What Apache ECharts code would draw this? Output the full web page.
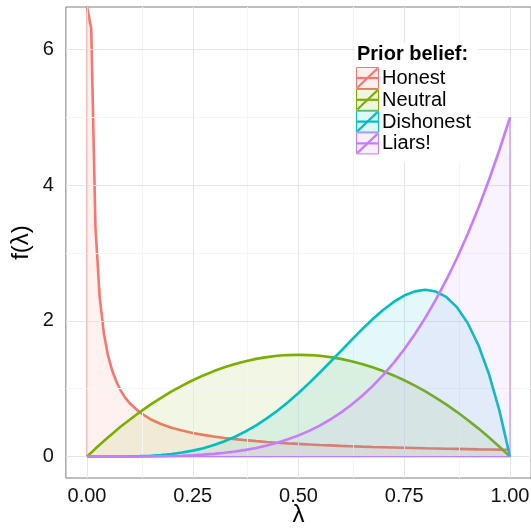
<!DOCTYPE html>
<html>
<head>
<meta charset="utf-8">
<script src="https://cdn.jsdelivr.net/npm/echarts@6/dist/echarts.min.js"></script>
<style>html,body{margin:0;padding:0;background:#fff}#c{width:531px;height:529px}</style>
</head>
<body>
<div id="c"></div>
<script>
// ---- data ----
const lambda = [0, 0.01, 0.02, 0.03, 0.04, 0.05, 0.06, 0.07, 0.08, 0.09, 0.1,
  0.125, 0.15, 0.175, 0.2, 0.225, 0.25, 0.275, 0.3, 0.325, 0.35, 0.375, 0.4,
  0.425, 0.45, 0.475, 0.5, 0.525, 0.55, 0.575, 0.6, 0.625, 0.65, 0.675, 0.7,
  0.725, 0.75, 0.775, 0.8, 0.825, 0.85, 0.875, 0.9, 0.925, 0.95, 0.975, 1.0];
const honest = [6.63, 6.31, 3.38, 2.35, 1.81, 1.48, 1.26, 1.10, 0.971, 0.873, 0.794,
  0.650, 0.551, 0.480, 0.426, 0.383, 0.348, 0.320, 0.296, 0.275, 0.257, 0.242, 0.228,
  0.216, 0.205, 0.195, 0.187, 0.179, 0.171, 0.165, 0.158, 0.153, 0.147, 0.142, 0.138,
  0.134, 0.130, 0.126, 0.122, 0.119, 0.116, 0.113, 0.110, 0.107, 0.105, 0.102, 0.100];
const neutral = [0, 0.059, 0.118, 0.175, 0.230, 0.285, 0.338, 0.391, 0.442, 0.491, 0.540,
  0.656, 0.765, 0.866, 0.960, 1.046, 1.125, 1.196, 1.260, 1.316, 1.365, 1.406, 1.440,
  1.466, 1.485, 1.496, 1.500, 1.496, 1.485, 1.466, 1.440, 1.406, 1.365, 1.316, 1.260,
  1.196, 1.125, 1.046, 0.960, 0.866, 0.765, 0.656, 0.540, 0.416, 0.285, 0.146, 0];
const dishonest = [0, 0, 0, 0, 0.0001, 0.0002, 0.0004, 0.0007, 0.0011, 0.0018, 0.0027,
  0.0064, 0.0129, 0.0232, 0.0384, 0.0596, 0.0879, 0.1244, 0.1701, 0.2259, 0.2926, 0.3708, 0.4608,
  0.5628, 0.6766, 0.8018, 0.9375, 1.0826, 1.2353, 1.3937, 1.5552, 1.7166, 1.8743, 2.0240, 2.1609,
  2.2793, 2.3730, 2.4351, 2.4576, 2.4321, 2.3490, 2.1982, 1.9683, 1.6472, 1.2218, 0.6778, 0];
const liars = [0, 0, 0, 0, 0, 0, 0.0001, 0.0001, 0.0002, 0.0003, 0.0005,
  0.0012, 0.0025, 0.0047, 0.0080, 0.0128, 0.0195, 0.0286, 0.0405, 0.0558, 0.0750, 0.0989, 0.1280,
  0.1631, 0.2050, 0.2545, 0.3125, 0.3798, 0.4575, 0.5466, 0.6480, 0.7629, 0.8925, 1.0380, 1.2005,
  1.3814, 1.5820, 1.8038, 2.0480, 2.3163, 2.6100, 2.9309, 3.2805, 3.6605, 4.0725, 4.5184, 5.0];
const groups = ['Honest', 'Neutral', 'Dishonest', 'Liars!'];
const values = [honest, neutral, dishonest, liars];
const xTicks = [0, 0.25, 0.5, 0.75, 1];
const xMinor = [0.125, 0.375, 0.625, 0.875];
const yTicks = [0, 2, 4, 6];
const yMinor = [1, 3, 5];
const legendTitle = 'Prior belief:';
const xTitle = 'λ';
const yTitle = 'f(λ)';

// ---- styling ----
const colors = ['#F8766D', '#7CAE00', '#00BFC4', '#C77CFF'];
const FONT = '"Liberation Sans", Arial, sans-serif';
const X_MIN = -0.05, X_MAX = 1.05, Y_MIN = -0.3155, Y_MAX = 6.6255;

function pairs(xs, ys) { return xs.map((x, i) => [x, ys[i]]); }

const series = [];
series.push({
  type: 'line', data: [], silent: true, z: 0,
  markLine: {
    silent: true, symbol: 'none', label: { show: false }, animation: false,
    data: [
      ...xMinor.map(v => ({ xAxis: v, lineStyle: { color: '#f5f5f5', width: 1, type: 'solid' } })),
      ...yMinor.map(v => ({ yAxis: v, lineStyle: { color: '#f5f5f5', width: 1, type: 'solid' } })),
      ...xTicks.map(v => ({ xAxis: v, lineStyle: { color: '#e6e6e6', width: 1, type: 'solid' } })),
      ...yTicks.map(v => ({ yAxis: v, lineStyle: { color: '#e6e6e6', width: 1, type: 'solid' } }))
    ]
  }
});
groups.forEach((g, i) => {
  const pts = pairs(lambda, values[i]);
  series.push({
    name: g + ' area', type: 'line', z: 2 + i * 2,
    data: [[0, 0]].concat(pts).concat([[1, 0], [0, 0]]),
    symbol: 'none', clip: true, animation: false,
    lineStyle: { color: colors[i], width: 1 },
    areaStyle: { color: colors[i], opacity: 0.1 }
  });
  series.push({
    name: g, type: 'line', z: 3 + i * 2,
    data: pts, symbol: 'none', clip: true, animation: false,
    lineStyle: { color: colors[i], width: 2.6 }
  });
});

const LX = 356.5, LY0 = 67.5, ROW = 21.8, KW = 22, KH = 21;
const graphic = [
  { type: 'rect', shape: { x: 355, y: 42, width: 123, height: 120 }, style: { fill: '#fff' }, z: 100 },
  { type: 'text', x: 357, y: 54.7, z: 101,
    style: { text: legendTitle, font: 'bold 20px ' + FONT, fill: '#000', verticalAlign: 'middle' } }
];
groups.forEach((g, i) => {
  const top = LY0 + i * ROW;
  graphic.push({ type: 'rect', z: 101, shape: { x: LX, y: top, width: KW, height: KH },
    style: { fill: echarts.color.modifyAlpha(colors[i], 0.12), stroke: colors[i], lineWidth: 1 } });
  graphic.push({ type: 'line', z: 102, shape: { x1: LX, y1: top + KH / 2, x2: LX + KW, y2: top + KH / 2 },
    style: { stroke: colors[i], lineWidth: 2.2 } });
  graphic.push({ type: 'line', z: 102, shape: { x1: LX + 1, y1: top + KH - 1, x2: LX + KW - 1, y2: top + 1 },
    style: { stroke: colors[i], lineWidth: 2.2 } });
  graphic.push({ type: 'text', z: 102, x: 382, y: top + KH / 2 + 0.5,
    style: { text: g, font: '20px ' + FONT, fill: '#000', verticalAlign: 'middle' } });
});

const chart = echarts.init(document.getElementById('c'), null, { renderer: 'canvas' });
chart.setOption({
  animation: false,
  backgroundColor: '#fff',
  textStyle: { fontFamily: FONT },
  grid: { left: 65.85, top: 7, width: 465.3, height: 471, containLabel: false, outerBoundsMode: 'none',
    show: true, borderColor: '#7f7f7f', borderWidth: 1, backgroundColor: 'transparent' },
  xAxis: {
    type: 'value', min: X_MIN, max: X_MAX,
    axisLine: { show: false },
    splitLine: { show: false },
    axisTick: { show: true, customValues: xTicks, length: 5, lineStyle: { color: '#333', width: 1 } },
    axisLabel: { customValues: xTicks, margin: 8, fontSize: 20, color: '#111', fontFamily: FONT,
      formatter: v => v.toFixed(2) },
    name: xTitle, nameLocation: 'middle', nameGap: 25, nameMoveOverlap: false,
    nameTextStyle: { fontSize: 24, color: '#000', fontFamily: FONT }
  },
  yAxis: {
    type: 'value', min: Y_MIN, max: Y_MAX,
    axisLine: { show: false },
    splitLine: { show: false },
    axisTick: { show: true, customValues: yTicks, length: 5, lineStyle: { color: '#333', width: 1 } },
    axisLabel: { customValues: yTicks, margin: 12, fontSize: 20, color: '#111', fontFamily: FONT,
      formatter: v => String(v) },
    name: yTitle, nameLocation: 'middle', nameGap: 32, nameRotate: 90, nameMoveOverlap: false,
    nameTextStyle: { fontSize: 24, color: '#000', fontFamily: FONT }
  },
  series: series,
  graphic: graphic
});
</script>
</body>
</html>
